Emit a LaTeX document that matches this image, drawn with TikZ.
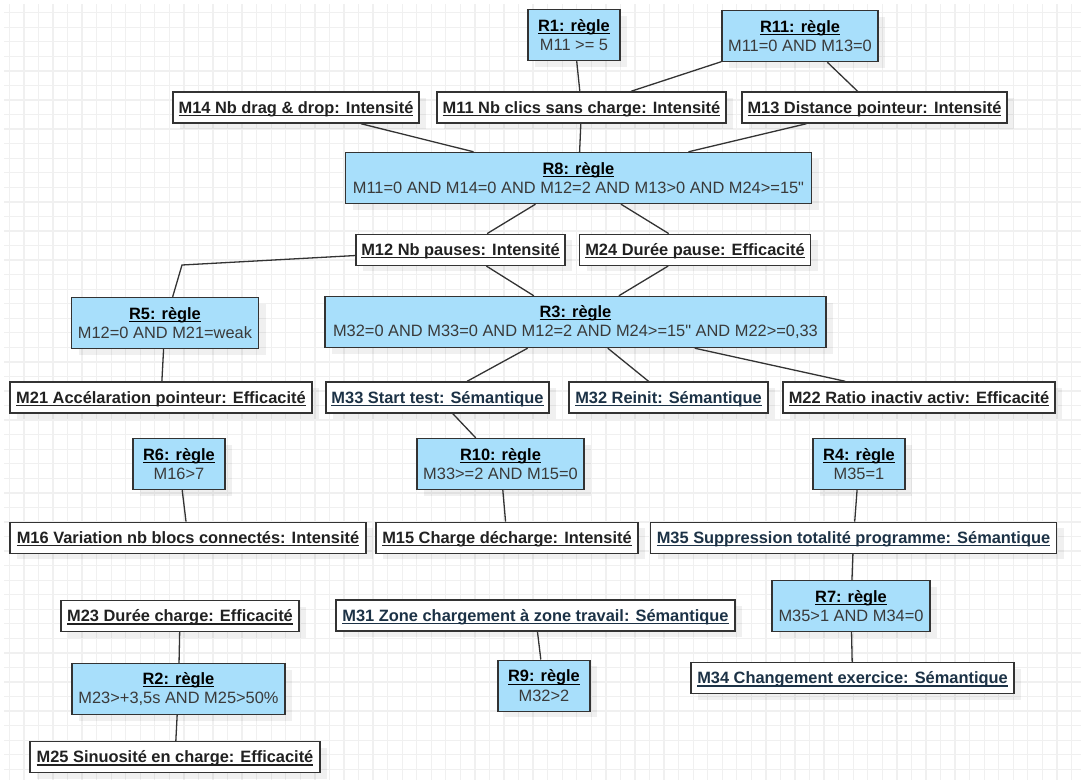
\documentclass[tikz,border=0pt]{standalone}
\usepackage{fontspec}
\setmainfont{Liberation Sans}[Ligatures=TeXOff]
\usetikzlibrary{shadows}
\definecolor{rulefill}{RGB}{168,223,251}
\definecolor{edgegray}{RGB}{51,51,51}
\definecolor{semtext}{RGB}{28,50,70}
\definecolor{bodytext}{RGB}{58,58,58}
\definecolor{gridgray}{RGB}{240,240,240}
\newsavebox\undlbox
\newcommand{\undl}[1]{\sbox\undlbox{#1}\rlap{\usebox\undlbox}\rule[-2.8pt]{\wd\undlbox}{1.1pt}}
\newcommand{\rulehead}[2]{\undl{\textbf{#1: règle}}\\\color{bodytext}#2}
\begin{document}
\begin{tikzpicture}[x=1pt,y=-1pt,
  font=\fontsize{16.4}{19.3}\selectfont,
  box/.style={draw=edgegray,line width=1.4pt,align=center,inner sep=2pt,
    drop shadow={shadow xshift=7pt,shadow yshift=-6pt,fill=black,opacity=.06}},
  rule/.style={box,fill=rulefill,minimum height=51pt},
  metric/.style={box,fill=white,minimum height=31pt,text height=13pt,text depth=1.5pt,
    font=\fontsize{16.4}{19.3}\selectfont\bfseries,text=black!87},
  semantic/.style={metric,text=semtext},
  link/.style={draw=edgegray,line width=1.3pt},
  gridline/.style={draw=gridgray,line width=1.3pt}
]
\useasboundingbox (0,0) rectangle (1081,780);
\fill[white] (0,0) rectangle (1081,780);
\foreach \i in {0,...,73}
  \draw[gridline] ({9.3+14.55*\i},4) -- ({9.3+14.55*\i},780);
\foreach \j in {0,...,52}
  \draw[gridline] (4,{12.7+14.55*\j}) -- (1081,{12.7+14.55*\j});

\node[rule,minimum width=92pt] (r1) at (574,35) {\rulehead{R1}{M11 >= 5}};
\node[rule,minimum width=156pt] (r11) at (800,36) {\rulehead{R11}{M11=0 AND M13=0}};
\node[metric,minimum width=246pt] (m14) at (296,107.5) {\undl{M14 Nb drag \& drop: Intensité}};
\node[metric,minimum width=289pt] (m11) at (581.5,107.5) {\undl{M11 Nb clics sans charge: Intensité}};
\node[metric,minimum width=265pt] (m13) at (874.5,107.5) {\undl{M13 Distance pointeur: Intensité}};
\node[rule,minimum width=466pt] (r8) at (578.5,178) {\rulehead{R8}{M11=0 AND M14=0 AND M12=2 AND M13>0 AND M24>=15"}};
\node[metric,minimum width=209pt] (m12) at (460.5,249.8) {\undl{M12 Nb pauses: Intensité}};
\node[metric,minimum width=231pt] (m24) at (695,249.8) {\undl{M24 Durée pause: Efficacité}};
\node[rule,minimum width=187pt] (r5) at (165,323) {\rulehead{R5}{M12=0 AND M21=weak}};
\node[rule,minimum width=501pt] (r3) at (575.5,322) {\rulehead{R3}{M32=0 AND M33=0 AND M12=2 AND M24>=15" AND M22>=0,33}};
\node[metric,minimum width=302pt] (m21) at (161,397.5) {\undl{M21 Accélaration pointeur: Efficacité}};
\node[semantic,minimum width=223pt] (m33) at (437.5,397.5) {\undl{M33 Start test: Sémantique}};
\node[semantic,minimum width=199pt] (m32) at (668.5,397.5) {\undl{M32 Reinit: Sémantique}};
\node[metric,minimum width=272pt] (m22) at (919,397.5) {\undl{M22 Ratio inactiv activ: Efficacité}};
\node[rule,minimum width=92pt] (r6) at (179,464) {\rulehead{R6}{M16>7}};
\node[rule,minimum width=167pt] (r10) at (500.5,464) {\rulehead{R10}{M33>=2 AND M15=0}};
\node[rule,minimum width=92pt] (r4) at (859,464) {\rulehead{R4}{M35=1}};
\node[metric,minimum width=356pt] (m16) at (188,537.8) {\undl{M16 Variation nb blocs connectés: Intensité}};
\node[metric,minimum width=262pt] (m15) at (507,537.8) {\undl{M15 Charge décharge: Intensité}};
\node[semantic,minimum width=406pt] (m35) at (853.5,537.8) {\undl{M35 Suppression totalité programme: Sémantique}};
\node[rule,minimum width=158pt] (r7) at (851,606) {\rulehead{R7}{M35>1 AND M34=0}};
\node[metric,minimum width=238pt] (m23) at (180,616) {\undl{M23 Durée charge: Efficacité}};
\node[semantic,minimum width=399pt] (m31) at (535.5,615.5) {\undl{M31 Zone chargement à zone travail: Sémantique}};
\node[rule,minimum width=213pt] (r2) at (178.5,689) {\rulehead{R2}{M23>+3,5s AND M25>50\%}};
\node[rule,minimum width=92pt] (r9) at (544,685.7) {\rulehead{R9}{M32>2}};
\node[semantic,minimum width=323pt] (m34) at (852.5,678) {\undl{M34 Changement exercice: Sémantique}};
\node[metric,minimum width=290pt] (m25) at (175,757) {\undl{M25 Sinuosité en charge: Efficacité}};

\draw[link] (r1) -- (m11);
\draw[link] (r11) -- (m11);
\draw[link] (r11) -- (m13);
\draw[link] (m14) -- (r8);
\draw[link] (m11) -- (r8);
\draw[link] (m13) -- (r8);
\draw[link] (r8) -- (m12);
\draw[link] (r8) -- (m24);
\coordinate (bend5) at (182,265);
\draw[link] (m12) -- (bend5) -- (r5);
\draw[link] (m12) -- (r3);
\draw[link] (m24) -- (r3);
\draw[link] (r5) -- (m21);
\draw[link] (r3) -- (m33);
\draw[link] (r3) -- (m32);
\draw[link] (r3) -- (m22);
\draw[link] (m33) -- (r10);
\draw[link] (r6) -- (m16);
\draw[link] (r10) -- (m15);
\draw[link] (r4) -- (m35);
\draw[link] (m35) -- (r7);
\draw[link] (r7) -- (m34);
\draw[link] (m23) -- (r2);
\draw[link] (r2) -- (m25);
\draw[link] (m31) -- (r9);
\end{tikzpicture}
\end{document}
